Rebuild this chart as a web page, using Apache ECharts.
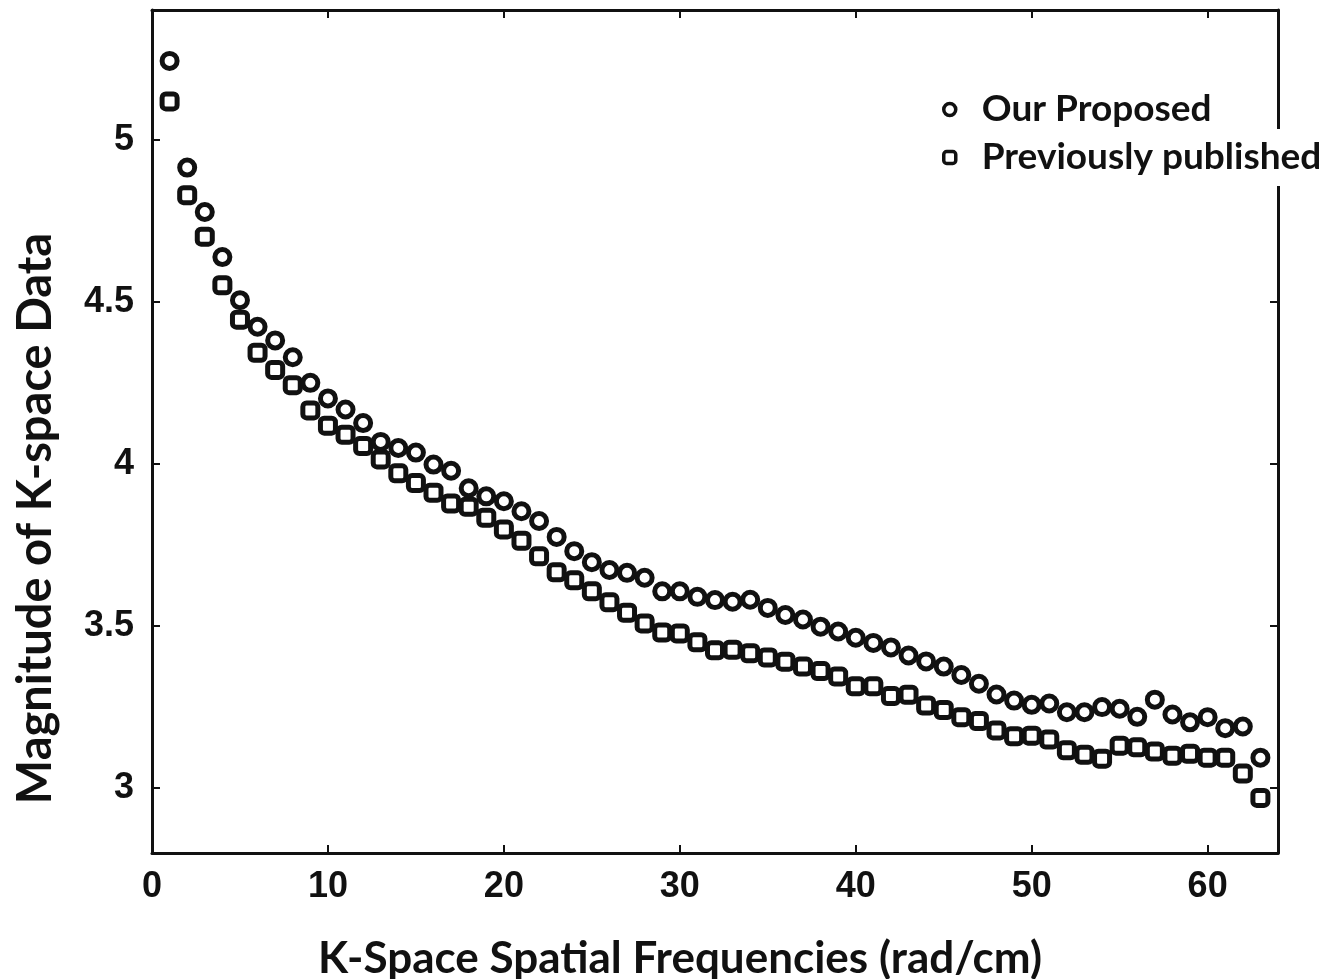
<!DOCTYPE html>
<html>
<head>
<meta charset="utf-8">
<script src="https://cdn.jsdelivr.net/npm/echarts@6/dist/echarts.min.js"></script>
<style>
html,body{margin:0;padding:0;background:#fff;}
#chart{width:1337px;height:979px;}
</style>
</head>
<body>
<div id="chart"></div>
<script>
const frequencies = [1,2,3,4,5,6,7,8,9,10,11,12,13,14,15,16,17,18,19,20,21,22,23,24,25,26,27,28,29,30,31,32,33,34,35,36,37,38,39,40,41,42,43,44,45,46,47,48,49,50,51,52,53,54,55,56,57,58,59,60,61,62,63];
const ourProposed = [5.243,4.914,4.777,4.638,4.505,4.423,4.381,4.329,4.25,4.202,4.168,4.126,4.068,4.049,4.035,3.998,3.979,3.925,3.90,3.885,3.854,3.824,3.775,3.731,3.697,3.673,3.664,3.649,3.607,3.607,3.590,3.580,3.575,3.581,3.556,3.534,3.520,3.498,3.483,3.464,3.448,3.434,3.409,3.391,3.375,3.349,3.322,3.289,3.270,3.257,3.261,3.234,3.234,3.250,3.245,3.220,3.273,3.227,3.203,3.219,3.185,3.190,3.094];
const previouslyPublished = [5.118,4.829,4.701,4.551,4.445,4.343,4.290,4.243,4.165,4.118,4.090,4.055,4.014,3.971,3.941,3.911,3.878,3.868,3.834,3.798,3.763,3.715,3.666,3.641,3.607,3.573,3.541,3.508,3.480,3.477,3.450,3.425,3.427,3.416,3.403,3.390,3.375,3.361,3.344,3.314,3.314,3.284,3.288,3.255,3.241,3.219,3.207,3.178,3.160,3.162,3.150,3.117,3.103,3.091,3.131,3.126,3.113,3.100,3.106,3.094,3.094,3.045,2.970];
const xTicks = [0,10,20,30,40,50,60];
const yTicks = [3,3.5,4,4.5,5];
const seriesNames = ['Our Proposed','Previously published'];

const tickFont = {fontFamily:'"Liberation Sans", Arial, sans-serif',fontWeight:'bold',fontSize:36,color:'#111'};
const titleFont = {fontFamily:'Lato, "Open Sans", sans-serif',fontWeight:'bold',color:'#111'};
const axisLine = {show:true,onZero:false,lineStyle:{color:'#111',width:3}};
const tickStyle = {show:true,inside:true,length:8,lineStyle:{color:'#111',width:2}};
const legendText = Object.assign({},titleFont,{fontSize:37,padding:[0,0,0,21]});

const chart = echarts.init(document.getElementById('chart'),null,{renderer:'canvas'});
const pair = (ys)=>frequencies.map((f,i)=>[f,ys[i]]);
chart.setOption({
  animation:false,
  backgroundColor:'#fff',
  grid:{left:152,right:59,top:10,bottom:126,containLabel:false,outerBoundsMode:'none'},
  legend:[{
    data:[seriesNames[0]],orient:'vertical',left:937,top:86,
    itemWidth:12,itemHeight:12,z:100,
    itemStyle:{borderWidth:3.5},
    textStyle:legendText
  },{
    data:[seriesNames[1]],orient:'vertical',left:937,top:129,padding:[10,4,10,5],
    backgroundColor:'#fff',itemWidth:12,itemHeight:12,z:100,
    itemStyle:{borderWidth:3.5},
    textStyle:legendText
  }],
  xAxis:[{
    type:'value',min:0,max:64,position:'bottom',
    name:'K-Space Spatial Frequencies (rad/cm)',nameLocation:'middle',nameGap:84,
    nameTextStyle:Object.assign({},titleFont,{fontSize:44,padding:[0,70,0,0]}),
    axisLine:axisLine,
    axisTick:Object.assign({customValues:xTicks},tickStyle),
    axisLabel:Object.assign({margin:16,customValues:xTicks},tickFont),
    splitLine:{show:false}
  },{
    type:'value',min:0,max:64,position:'top',
    axisLine:axisLine,
    axisTick:Object.assign({customValues:xTicks},tickStyle),
    axisLabel:{show:false},splitLine:{show:false}
  }],
  yAxis:[{
    type:'value',min:2.8,max:5.4,position:'left',
    name:'Magnitude of K-space Data',nameLocation:'middle',nameGap:93,
    nameTextStyle:Object.assign({},titleFont,{fontSize:47,padding:[0,174,0,0]}),
    axisLine:axisLine,
    axisTick:Object.assign({customValues:yTicks},tickStyle),
    axisLabel:Object.assign({margin:18,customValues:yTicks},tickFont),
    splitLine:{show:false}
  },{
    type:'value',min:2.8,max:5.4,position:'right',
    axisLine:axisLine,
    axisTick:Object.assign({customValues:yTicks},tickStyle),
    axisLabel:{show:false},splitLine:{show:false}
  }],
  series:[{
    name:seriesNames[0],type:'scatter',symbol:'circle',symbolSize:15,
    itemStyle:{color:'#fff',borderColor:'#111',borderWidth:5,opacity:1},
    data:pair(ourProposed),z:3
  },{
    name:seriesNames[1],type:'scatter',symbol:'roundRect',symbolSize:15,
    itemStyle:{color:'#fff',borderColor:'#111',borderWidth:5,opacity:1},
    data:pair(previouslyPublished),z:2
  }]
});
</script>
</body>
</html>
